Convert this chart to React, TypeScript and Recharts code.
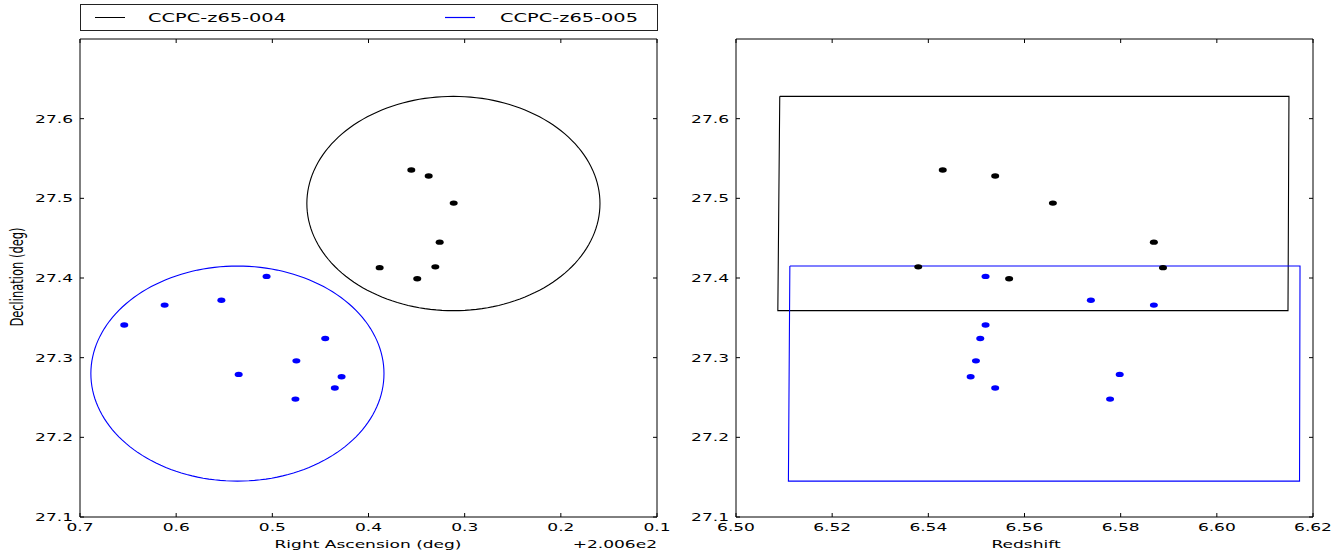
import React from "react";
import { ScatterChart, Scatter, XAxis, YAxis } from "recharts";

// the picture is stretched sideways, so text and dots are too
const SX = 1.55;
const FONT = "'DejaVu Sans', sans-serif";
const BLUE = "#0000ff";

const raTicks = [0.7, 0.6, 0.5, 0.4, 0.3, 0.2, 0.1];
const decTicks = [27.1, 27.2, 27.3, 27.4, 27.5, 27.6];
const zTicks = [6.5, 6.52, 6.54, 6.56, 6.58, 6.6, 6.62];

// CCPC-z65-004 members
const ra004 = [0.3555, 0.3374, 0.3114, 0.326, 0.3884, 0.3305, 0.3493];
const dec004 = [27.5355, 27.528, 27.494, 27.445, 27.413, 27.414, 27.399];
const z004 = [6.543, 6.5539, 6.5659, 6.5869, 6.5888, 6.5379, 6.5568];

// CCPC-z65-005 members
const ra005 = [0.506, 0.612, 0.553, 0.654, 0.445, 0.475, 0.535, 0.428, 0.435, 0.476];
const dec005 = [27.402, 27.366, 27.372, 27.341, 27.324, 27.296, 27.279, 27.276, 27.262, 27.248];
const z005 = [6.5519, 6.5869, 6.5738, 6.5519, 6.5508, 6.5499, 6.5798, 6.5488, 6.5539, 6.5778];

// circles on the sky (centre, radius in ra / dec)
const circle004 = { ra: 0.3117, dec: 27.4935, rRa: 0.1524, rDec: 0.1345 };
const circle005 = { ra: 0.5363, dec: 27.28, rRa: 0.1524, rDec: 0.135 };

// boxes in redshift space (corners, closed)
const box004Z = [6.5091, 6.615, 6.6148, 6.5087, 6.5091];
const box004Dec = [27.628, 27.628, 27.359, 27.359, 27.628];
const box005Z = [6.5112, 6.6173, 6.6172, 6.5109, 6.5112];
const box005Dec = [27.415, 27.415, 27.145, 27.145, 27.415];

const pts004 = ra004.map((ra, i) => ({ ra, dec: dec004[i], z: z004[i] }));
const pts005 = ra005.map((ra, i) => ({ ra, dec: dec005[i], z: z005[i] }));

const ring = (c) => {
  const out = [];
  for (let i = 0; i <= 160; i++) {
    const t = (2 * Math.PI * i) / 160;
    out.push({ ra: c.ra + c.rRa * Math.cos(t), dec: c.dec + c.rDec * Math.sin(t) });
  }
  return out;
};
const ring004 = ring(circle004);
const ring005 = ring(circle005);
const rect004 = box004Z.map((z, i) => ({ z, dec: box004Dec[i] }));
const rect005 = box005Z.map((z, i) => ({ z, dec: box005Dec[i] }));

const StretchText = ({ x, y, anchor = "middle", size = 11, rotate = false, children }: any) => (
  <text
    transform={`translate(${x},${y}) scale(${SX},1)${rotate ? " rotate(-90)" : ""}`}
    textAnchor={anchor}
    fontSize={size}
    fontFamily={FONT}
    fill="#000"
  >
    {children}
  </text>
);

const xTick = (digits) => (p: any) => (
  <StretchText x={p.x} y={p.y}>
    {Number(p.payload.value).toFixed(digits)}
  </StretchText>
);
const yTick = (p: any) => (
  <StretchText x={p.x} y={p.y + 4} anchor="end">
    {Number(p.payload.value).toFixed(1)}
  </StretchText>
);
const noTick = () => <g />;

const dot = (color) => (p: any) => <ellipse cx={p.cx} cy={p.cy} rx={4} ry={2.7} fill={color} />;
const noDot = () => <g />;

const RaLabel = () => (
  <g>
    <StretchText x={368} y={548}>Right Ascension (deg)</StretchText>
    <StretchText x={657} y={548} anchor="end">+2.006e2</StretchText>
  </g>
);
const DecLabel = () => (
  <StretchText x={23} y={277} size={11.5} rotate>
    Declination (deg)
  </StretchText>
);
const ZLabel = () => <StretchText x={346} y={548}>Redshift</StretchText>;

const axisProps = {
  type: "number" as const,
  tickSize: -4,
  axisLine: { stroke: "#000", strokeWidth: 1 },
  tickLine: { stroke: "#000", strokeWidth: 1 },
  interval: 0 as const,
  allowDataOverflow: true,
};

const Legend004 = () => (
  <svg width={680} height={36} style={{ position: "absolute", left: 0, top: 0 }}>
    <rect x={80.5} y={4.5} width={577} height={26} fill="#fff" stroke="#222" strokeWidth={1} />
    <line x1={95} x2={125} y1={17.5} y2={17.5} stroke="#000" strokeWidth={1} />
    <StretchText x={148} y={21.5} anchor="start" size={12.5}>CCPC-z65-004</StretchText>
    <line x1={445} x2={475} y1={17.5} y2={17.5} stroke={BLUE} strokeWidth={1.2} />
    <StretchText x={500} y={21.5} anchor="start" size={12.5}>CCPC-z65-005</StretchText>
  </svg>
);

export default function App() {
  return (
    <div style={{ position: "absolute", left: 0, top: 0, width: 1344, height: 553, background: "#fff" }}>
      <div style={{ position: "absolute", left: 0, top: 0 }}>
        <ScatterChart width={680} height={553} margin={{ top: 38, right: 22, left: 0, bottom: 0 }}>
          <XAxis {...axisProps} dataKey="ra" domain={[0.1, 0.7]} reversed ticks={raTicks} height={36}
            tickMargin={18} tick={xTick(1)} label={<RaLabel />} />
          <XAxis {...axisProps} xAxisId="top" orientation="top" dataKey="ra" domain={[0.1, 0.7]} reversed ticks={raTicks}
            height={1} tick={noTick} />
          <YAxis {...axisProps} dataKey="dec" domain={[27.1, 27.7]} ticks={decTicks} width={80}
            tickMargin={11} tick={yTick} label={<DecLabel />} />
          <YAxis {...axisProps} yAxisId="right" orientation="right" dataKey="dec" domain={[27.1, 27.7]} ticks={decTicks}
            width={1} tick={noTick} />
          <Scatter data={pts004} xAxisId="top" yAxisId="right" shape={noDot} isAnimationActive={false} />
          <Scatter data={ring004} line={{ stroke: "#000", strokeWidth: 1.1 }} lineType="joint" shape={noDot} isAnimationActive={false} />
          <Scatter data={ring005} line={{ stroke: BLUE, strokeWidth: 1.1 }} lineType="joint" shape={noDot} isAnimationActive={false} />
          <Scatter data={pts004} shape={dot("#000")} isAnimationActive={false} />
          <Scatter data={pts005} shape={dot(BLUE)} isAnimationActive={false} />
        </ScatterChart>
        <Legend004 />
      </div>
      <div style={{ position: "absolute", left: 680, top: 0 }}>
        <ScatterChart width={664} height={553} margin={{ top: 38, right: 30, left: 0, bottom: 0 }}>
          <XAxis {...axisProps} dataKey="z" domain={[6.5, 6.62]} ticks={zTicks} height={36}
            tickMargin={18} tick={xTick(2)} label={<ZLabel />} />
          <XAxis {...axisProps} xAxisId="top" orientation="top" dataKey="z" domain={[6.5, 6.62]} ticks={zTicks}
            height={1} tick={noTick} />
          <YAxis {...axisProps} dataKey="dec" domain={[27.1, 27.7]} ticks={decTicks} width={56}
            tickMargin={11} tick={yTick} />
          <YAxis {...axisProps} yAxisId="right" orientation="right" dataKey="dec" domain={[27.1, 27.7]} ticks={decTicks}
            width={1} tick={noTick} />
          <Scatter data={pts004} xAxisId="top" yAxisId="right" shape={noDot} isAnimationActive={false} />
          <Scatter data={rect004} line={{ stroke: "#000", strokeWidth: 1.1 }} lineType="joint" shape={noDot} isAnimationActive={false} />
          <Scatter data={rect005} line={{ stroke: BLUE, strokeWidth: 1.1 }} lineType="joint" shape={noDot} isAnimationActive={false} />
          <Scatter data={pts004} shape={dot("#000")} isAnimationActive={false} />
          <Scatter data={pts005} shape={dot(BLUE)} isAnimationActive={false} />
        </ScatterChart>
      </div>
    </div>
  );
}
